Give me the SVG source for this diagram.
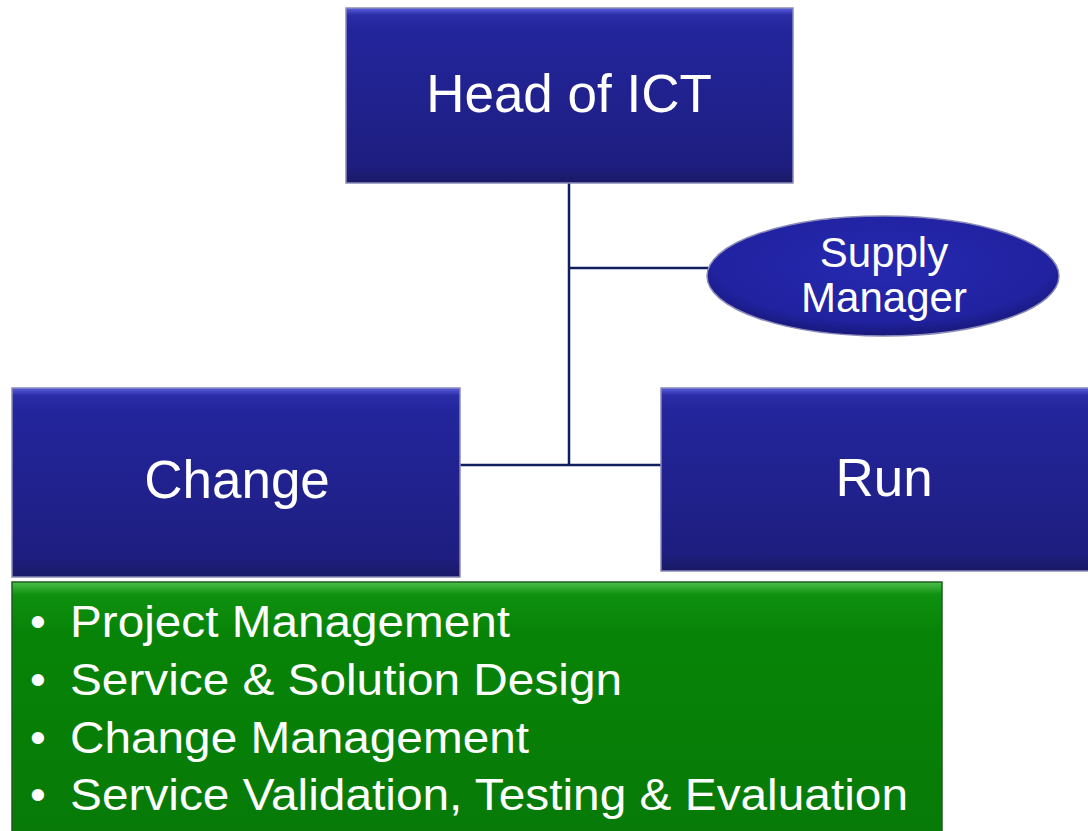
<svg xmlns="http://www.w3.org/2000/svg" width="1088" height="831" viewBox="0 0 1088 831">
<defs>
<linearGradient id="blue" x1="0" y1="0" x2="0" y2="1">
<stop offset="0" stop-color="#5a5ee0"/>
<stop offset="0.04" stop-color="#2a2da6"/>
<stop offset="0.12" stop-color="#23259c"/>
<stop offset="0.9" stop-color="#1e1e80"/>
<stop offset="1" stop-color="#1a1a66"/>
</linearGradient>
<linearGradient id="green" x1="0" y1="0" x2="0" y2="1">
<stop offset="0" stop-color="#4cc04c"/>
<stop offset="0.05" stop-color="#0f900f"/>
<stop offset="0.2" stop-color="#078407"/>
<stop offset="1" stop-color="#077a07"/>
</linearGradient>
<radialGradient id="oval" cx="0.5" cy="0.4" r="0.6">
<stop offset="0" stop-color="#2629b0"/>
<stop offset="0.8" stop-color="#2022a0"/>
<stop offset="1" stop-color="#18187a"/>
</radialGradient>
</defs>
<style>
.box{stroke:#8a8ab8;stroke-width:1.5}
.gbox{stroke:#1e5e1e;stroke-width:1.5}
.t{fill:#ffffff;font-family:"Liberation Sans",Arial,sans-serif;text-anchor:middle}
.b{fill:#ffffff;font-family:"Liberation Sans",Arial,sans-serif;font-size:45px}
.c{stroke:#0e1e5e;stroke-width:2.5;fill:none}
</style>
<rect width="1088" height="831" fill="#ffffff"/>
<g id="connectors">
<line class="c" x1="569" y1="183" x2="569" y2="465"/>
<line class="c" x1="569" y1="268" x2="708" y2="268"/>
<line class="c" x1="460" y1="465" x2="661" y2="465"/>
</g>
<g id="head">
<rect class="box" x="346" y="8" width="447" height="175" fill="url(#blue)"/>
<text class="t" x="569" y="112" font-size="53">Head of ICT</text>
</g>
<g id="supply">
<ellipse cx="883" cy="276" rx="176" ry="60" fill="url(#oval)" stroke="#8a8ab8" stroke-width="1.5"/>
<text class="t" x="884" y="267" font-size="42">Supply</text>
<text class="t" x="884" y="312" font-size="42">Manager</text>
</g>
<g id="change">
<rect class="box" x="12" y="388" width="448" height="189" fill="url(#blue)"/>
<text class="t" x="237" y="498" font-size="53">Change</text>
</g>
<g id="run">
<rect class="box" x="661" y="388" width="430" height="183" fill="url(#blue)"/>
<text class="t" x="884" y="496" font-size="53">Run</text>
</g>
<g id="tasks">
<rect class="gbox" x="12" y="582" width="930" height="252" fill="url(#green)"/>
<text class="b" x="30" y="637">•</text>
<text class="b" x="70" y="637" textLength="440" lengthAdjust="spacingAndGlyphs">Project Management</text>
<text class="b" x="30" y="695">•</text>
<text class="b" x="70" y="695" textLength="552" lengthAdjust="spacingAndGlyphs">Service &amp; Solution Design</text>
<text class="b" x="30" y="753">•</text>
<text class="b" x="70" y="753" textLength="459" lengthAdjust="spacingAndGlyphs">Change Management</text>
<text class="b" x="30" y="810">•</text>
<text class="b" x="70" y="810" textLength="838" lengthAdjust="spacingAndGlyphs">Service Validation, Testing &amp; Evaluation</text>
</g>
</svg>
